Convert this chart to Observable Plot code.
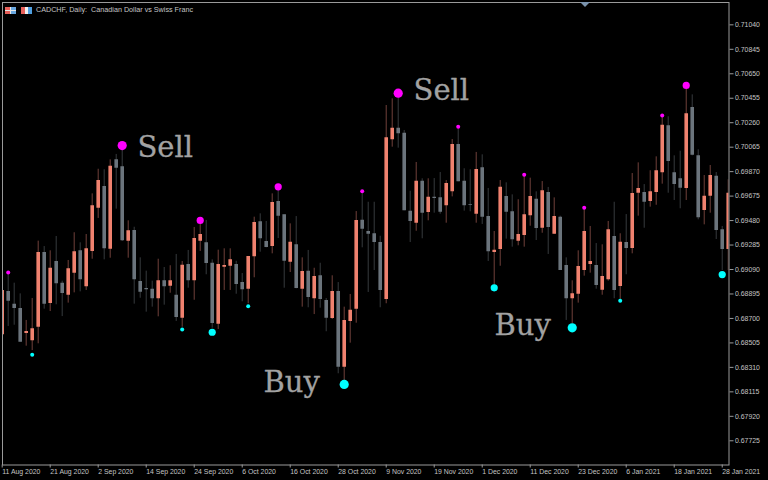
<!DOCTYPE html>
<html>
<head>
<meta charset="utf-8">
<script src="https://cdn.jsdelivr.net/npm/d3@7"></script>
<script src="https://cdn.jsdelivr.net/npm/@observablehq/plot@0.6"></script>
<style>
html,body{margin:0;padding:0;background:#000;width:768px;height:480px;overflow:hidden}
#wrap{position:relative;width:768px;height:480px}
#wrap svg{display:block}
#title{position:absolute;left:36px;top:5px;font:7.2px "Liberation Sans",sans-serif;color:#c4c4c4;white-space:pre;line-height:10px}
.ico{position:absolute;height:7px;top:7px;width:11px}
#tri{position:absolute;left:580px;top:2px;width:0;height:0;border-left:5px solid transparent;border-right:5px solid transparent;border-top:5px solid #7a93ad}
</style>
</head>
<body>
<div id="wrap"></div>
<script>
// Prices in points (price x 100000), one entry per daily bar.
const chartTitle = "CADCHF, Daily:  Canadian Dollar vs Swiss Franc";

const opens = [
68570,68915,68814,68779,68580,68522,68630,69226,68819,69154,
68981,68885,69061,69239,68952,69234,69579,69752,69252,69964,
69909,69316,69401,68994,68939,68933,68857,69000,68957,68885,
68702,69130,69000,69316,69303,69140,68654,69108,69116,69130,
68986,68933,69191,69470,69313,69273,69632,69526,69148,69287,
68933,69077,68857,69040,68843,68700,68915,68311,68676,68774,
69483,69393,69375,69305,68851,70124,70216,70176,69555,69459,
69794,69544,69666,69661,69598,69709,70086,69794,69608,69531,
69901,69512,69226,69250,69672,69550,69316,69361,69518,69650,
69419,69704,69371,69507,69122,68857,68893,69082,69130,69122,
68925,69008,69353,68955,69305,69257,69698,69704,69632,69704,
69861,70235,69861,69813,69736,70381,69996,69560,69674,69834,
69406,69250];

const closes = [
68923,68837,68779,68511,68596,68617,69226,68814,69100,68976,
68899,69096,69231,69008,69255,69598,69799,69255,69913,69897,
69319,69398,69008,68909,68928,68857,69000,68952,69000,68708,
69124,69000,69337,69369,69138,68660,69130,69122,69167,68970,
68928,69194,69465,69335,69265,69624,69515,69156,69308,68939,
69074,68867,69034,68851,68702,68915,68311,68684,68766,69481,
69411,69371,69305,68923,70140,70216,70172,69558,69473,69794,
69539,69666,69656,69547,69775,70086,69789,69598,69602,69887,
69507,69231,69244,69746,69547,69327,69369,69526,69672,69417,
69717,69425,69512,69082,68857,68896,69114,69393,69154,68963,
69034,69406,68923,69308,69257,69696,69736,69626,69709,69877,
70240,69951,69767,69738,70331,70001,69502,69674,69839,69401,
69250,69698];

const highs = [
68947,69061,68981,68896,68684,68859,69316,69273,69239,69353,
68997,69162,69383,69303,69369,69693,69889,69885,69964,70007,
70062,69478,69427,69183,69077,68997,69172,69106,69120,69210,
69154,69242,69425,69454,69481,69167,69244,69255,69255,69156,
69058,69194,69507,69534,69473,69693,69725,69526,69454,69512,
69183,69242,69100,69140,68859,69040,68986,68790,68891,69552,
69706,69626,69626,69355,70397,70450,70463,70198,69714,69943,
69813,69813,69815,69863,69799,70126,70211,69893,69885,70023,
70004,69736,69393,69799,69781,69685,69646,69831,69818,69709,
69791,69744,69661,69515,69183,69000,69239,69574,69433,69297,
69287,69473,69626,69375,69528,69855,69940,69767,69877,69988,
70309,70307,69996,70033,70530,70482,70044,69839,69919,69863,
69433,69805];

const lows = [
68548,68636,68646,68511,68479,68444,68498,68774,68755,68809,
68715,68822,68904,68912,68923,69172,69497,69167,69180,69571,
69313,69180,68814,68861,68750,68790,68713,68806,68901,68676,
68630,68941,68845,69234,69048,68622,68612,68923,68923,68893,
68833,68817,69024,69228,69263,69215,69337,68941,69066,68936,
68790,68785,68731,68782,68594,68692,68259,68205,68503,68662,
69263,68907,69082,68785,68817,70065,70057,69558,69305,69395,
69335,69478,69539,69531,69459,69669,69789,69555,69550,69459,
69449,69154,68963,69116,69332,69268,69279,69268,69435,69321,
69379,69210,69371,69082,68684,68657,68822,69037,69061,68933,
68885,68997,68857,68849,69048,69215,69515,69419,69587,69602,
69770,69698,69640,69574,69640,69996,69486,69446,69539,69329,
69082,69082];

// Signal dots: bar index and price, grouped by strength.
const sellStrongBars = [20,66];        const sellStrongPrices = [70078,70495];
const sellMediumBars = [33,46,114];    const sellMediumPrices = [69481,69749,70557];
const sellWeakBars = [1,60,76,87,97,110]; const sellWeakPrices = [69066,69714,70227,69845,69582,70317];
const buyStrongBars = [57,95];         const buyStrongPrices = [68174,68625];
const buyMediumBars = [35,82,120];     const buyMediumPrices = [68590,68944,69050];
const buyWeakBars = [5,30,41,103];     const buyWeakPrices = [68410,68612,68798,68841];

// Big annotations.
const noteTexts = ["Sell","Sell","Buy","Buy"];
const noteBars = [22.55,68.55,43.55,82.05];
const notePrices = [69987,70437,68110,68572];

// Axis ticks.
const priceTicks = [71040,70845,70650,70455,70260,70065,69870,69675,69480,69285,69090,68895,68700,68505,68310,68115,67920,67725];
const dateTickBars = [0,8,16,24,32,40,48,56,64,72,80,88,96,104,112,120];
const dateTickLabels = ["11 Aug 2020","21 Aug 2020","2 Sep 2020","14 Sep 2020","24 Sep 2020","6 Oct 2020","16 Oct 2020","28 Oct 2020","9 Nov 2020","19 Nov 2020","1 Dec 2020","11 Dec 2020","23 Dec 2020","6 Jan 2021","18 Jan 2021","28 Jan 2021"];

const bars = opens.map((o,i)=>({i,open:o,close:closes[i],high:highs[i],low:lows[i],up:closes[i]>=o}));
const pts = (xs,ys)=>xs.map((x,k)=>({x,y:ys[k]}));
const notes = noteTexts.map((t,k)=>({t,x:noteBars[k],y:notePrices[k]}));

const UP="#f0826f", DOWN="#6b747c", UPW="#70403a", DOWNW="#363a3e";
const SELL="#ff00ff", BUY="#00ffff";
const FRAME="#9a9a9a", TXT="#c4c4c4";

const dots = (xs,ys,fill,r)=>Plot.dot(pts(xs,ys),{x:"x",y:"y",r,fill,stroke:"none",clip:true});

const chart = Plot.plot({
  width:768,height:480,
  marginLeft:2,marginRight:39.5,marginTop:2,marginBottom:15.5,
  style:{background:"#000",color:TXT,fontFamily:"'Liberation Sans',sans-serif",fontSize:"6.9px"},
  x:{type:"linear",domain:[0.05,121.13],axis:null},
  y:{type:"linear",domain:[67532,71218],axis:null},
  marks:[
    Plot.ruleX(bars,{x:"i",y1:"low",y2:"high",stroke:d=>d.up?UPW:DOWNW,strokeWidth:1,clip:true}),
    Plot.ruleX(bars,{x:"i",y1:"open",y2:"close",stroke:d=>d.up?UP:DOWN,strokeWidth:3.6,clip:true}),
    dots(sellStrongBars,sellStrongPrices,SELL,4.6),
    dots(sellMediumBars,sellMediumPrices,SELL,3.6),
    dots(sellWeakBars,sellWeakPrices,SELL,2),
    dots(buyStrongBars,buyStrongPrices,BUY,4.6),
    dots(buyMediumBars,buyMediumPrices,BUY,3.6),
    dots(buyWeakBars,buyWeakPrices,BUY,2),
    Plot.text(notes,{x:"x",y:"y",text:"t",textAnchor:"start",lineAnchor:"bottom",fill:"#a2a2a2",stroke:"#a2a2a2",strokeWidth:0.3,fontFamily:"'DejaVu Serif',serif",fontSize:29}),
    Plot.frame({stroke:FRAME,strokeWidth:1}),
    Plot.axisY({anchor:"right",ticks:priceTicks,tickFormat:d=>(d/1e5).toFixed(5),tickSize:4,tickPadding:2,stroke:FRAME,fill:TXT,label:null}),
    Plot.axisX({anchor:"bottom",ticks:dateTickBars,tickFormat:d=>dateTickLabels[dateTickBars.indexOf(d)],tickSize:3,tickPadding:1.5,textAnchor:"start",stroke:FRAME,fill:TXT,label:null})
  ]
});
const wrap=document.getElementById("wrap");
wrap.appendChild(chart);
const t=document.createElement("div");t.id="title";t.textContent=chartTitle;wrap.appendChild(t);
const grid="linear-gradient(90deg,transparent 0 45%,#e8e8e8 45% 55%,transparent 55%),linear-gradient(0deg,transparent 0 44%,#e8e8e8 44% 58%,transparent 58%),";
const ic1=document.createElement("div");ic1.className="ico";ic1.style.left="5px";ic1.style.background=grid+"linear-gradient(90deg,#e8605a 0 50%,#6aa8e0 50% 100%)";wrap.appendChild(ic1);
const ic2=document.createElement("div");ic2.className="ico";ic2.style.left="21px";ic2.style.background="linear-gradient(90deg,transparent 0 40%,#f0f0f0 40% 60%,transparent 60%),linear-gradient(90deg,#e8605a 0 50%,#4f9fe0 50% 100%)";wrap.appendChild(ic2);
const tri=document.createElement("div");tri.id="tri";wrap.appendChild(tri);
</script>
</body>
</html>
